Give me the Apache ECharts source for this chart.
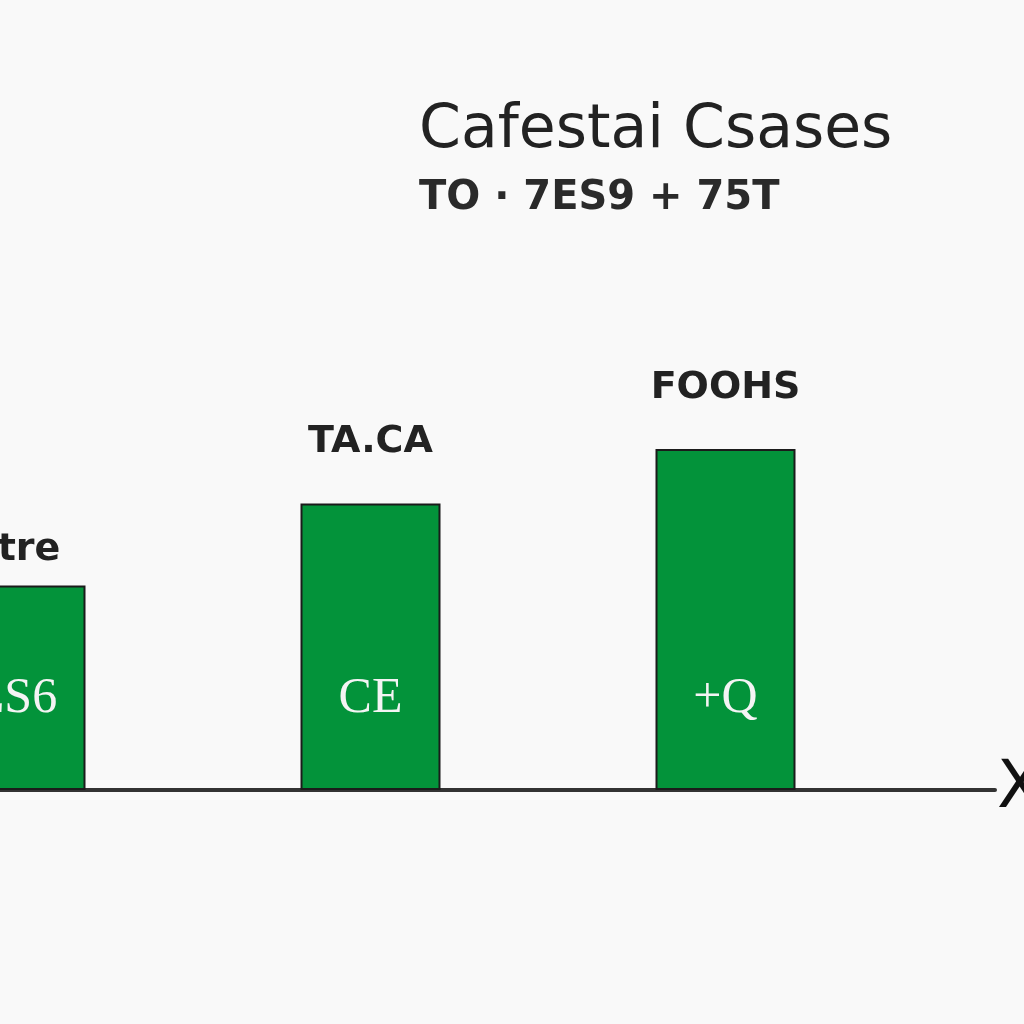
<!DOCTYPE html>
<html>
<head>
<meta charset="utf-8">
<script src="https://cdn.jsdelivr.net/npm/echarts@6/dist/echarts.min.js"></script>
<style>
html,body{margin:0;padding:0;background:#f9f9f9;}
#c{width:1024px;height:1024px;}
</style>
</head>
<body>
<div id="c"></div>
<script>
const titleText = "Cafestai Csases";
const subtitleText = "TO · 7ES9 + 75T";
const categories = ["ntre", "TA.CA", "FOOHS"];
const values = [60, 84, 100];
const innerLabels = ["ES6", "CE", "+Q"];
const axisName = "X";

const chart = echarts.init(document.getElementById('c'), null, {renderer: 'canvas'});
chart.setOption({
  backgroundColor: '#f9f9f9',
  animation: false,
  title: {
    text: titleText,
    subtext: subtitleText,
    left: 414,
    top: 96,
    itemGap: 18,
    textStyle: {fontFamily: 'DejaVu Sans', fontSize: 60, fontWeight: 'normal', color: '#222'},
    subtextStyle: {fontFamily: 'DejaVu Sans', fontSize: 40, fontWeight: 'bold', color: '#2a2a2a'}
  },
  grid: [
    {left: -162, width: 1065, top: 449, bottom: 234, containLabel: false, outerBoundsMode: 'none'},
    {left: 0, right: 29, top: 449, bottom: 234, containLabel: false, outerBoundsMode: 'none'}
  ],
  xAxis: [
    {type: 'category', gridIndex: 0, data: categories,
     axisLine: {show: false}, axisTick: {show: false}, axisLabel: {show: false}},
    {type: 'value', gridIndex: 1, min: 0, max: 1,
     name: axisName, nameLocation: 'end', nameGap: 2,
     nameTextStyle: {fontFamily: 'DejaVu Sans', fontSize: 66, color: '#111', verticalAlign: 'middle'},
     axisLine: {show: true, lineStyle: {color: '#333', width: 4}},
     axisTick: {show: false}, axisLabel: {show: false}, splitLine: {show: false}}
  ],
  yAxis: [
    {type: 'value', gridIndex: 0, min: 0, max: 100, show: false},
    {type: 'value', gridIndex: 1, min: 0, max: 1, show: false}
  ],
  series: [
    {
      type: 'bar', xAxisIndex: 0, yAxisIndex: 0,
      data: values.map((v, i) => i === 0 ? {value: v, label: {distance: 16}} : v),
      barWidth: 140,
      itemStyle: {color: '#03933a', borderColor: '#1b1b1b', borderWidth: 2},
      label: {show: true, position: 'top', distance: 42, formatter: '{b}',
        fontFamily: 'DejaVu Sans', fontSize: 38, fontWeight: 'bold', color: '#222'}
    },
    {
      type: 'bar', xAxisIndex: 0, yAxisIndex: 0,
      data: values, barWidth: 140, barGap: '-100%',
      itemStyle: {color: 'rgba(0,0,0,0)'},
      silent: true,
      label: {show: true, position: 'insideBottom', distance: 66,
        formatter: p => innerLabels[p.dataIndex],
        fontFamily: 'Liberation Serif', fontSize: 50, color: '#f4f4f4'}
    }
  ]
});
</script>
</body>
</html>
